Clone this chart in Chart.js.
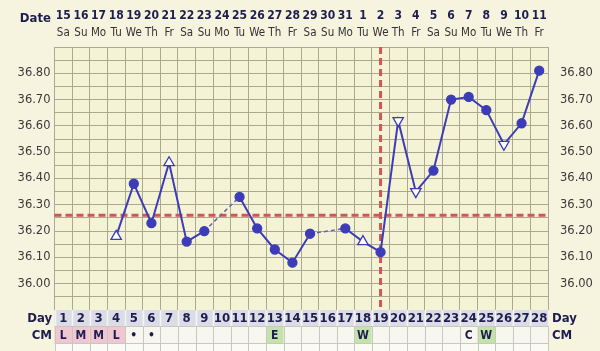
<!DOCTYPE html>
<html>
<head>
<meta charset="utf-8">
<script src="https://cdn.jsdelivr.net/npm/chart.js@4.4.0/dist/chart.umd.min.js"></script>
<style>
  html, body { margin: 0; padding: 0; background: #f6f3df; }
  canvas { display: block; }
</style>
</head>
<body>
<canvas id="bbt" width="600" height="351"></canvas>
<script>
// cycle days and the calendar row above them
const days = [1,2,3,4,5,6,7,8,9,10,11,12,13,14,15,16,17,18,19,20,21,22,23,24,25,26,27,28];
const dates = ['15','16','17','18','19','20','21','22','23','24','25','26','27','28',
               '29','30','31','1','2','3','4','5','6','7','8','9','10','11'];
const weekdays = ['Sa','Su','Mo','Tu','We','Th','Fr','Sa','Su','Mo','Tu','We','Th','Fr',
                  'Sa','Su','Mo','Tu','We','Th','Fr','Sa','Su','Mo','Tu','We','Th','Fr'];

// temperatures, null = not recorded
const temps = [null, null, null, 36.18, 36.38, 36.23, 36.46, 36.16, 36.20, null,
               36.33, 36.21, 36.13, 36.08, 36.19, null, 36.21, 36.16, 36.12, 36.62,
               36.35, 36.43, 36.70, 36.71, 36.66, 36.53, 36.61, 36.81];
// marker kind: c = dot, u = open triangle up, d = open triangle down
const marks = ['c','c','c','u','c','c','u','c','c','c',
               'c','c','c','c','c','c','c','u','c','d',
               'd','c','c','c','c','d','c','c'];

// cervical mucus row
const cm = ['L','M','M','L','•','•','','','','','','','E','','','','','W','','','','','','C','W','','',''];
const cmColor = { L: '#f1c6d3', M: '#f1c6d3', E: '#c3e3aa', W: '#c3e3aa' };

const coverline = 36.26;
const ovulationDay = 19;

const yMin = 35.90, yMax = 36.90;

const BLUE = '#3c3cb8';
const RED = '#cf5656';
const GRID = '#aca991';
const NAVY = '#1d1d4e';
const condensed = "'DejaVu Sans Condensed', 'DejaVu Sans', sans-serif";

// segments touching a missing day are drawn dashed
const gap = (ctx) => ctx.p0.skip || ctx.p1.skip;

const tickLabel = (v) => {
  const c = Math.round(v * 100);
  return (c % 10 === 0 && c >= 3600 && c <= 3680) ? (c / 100).toFixed(2) : '';
};

const chartPlugin = {
  id: 'fertility',
  beforeDraw(chart) {
    const { ctx, chartArea: a } = chart;
    ctx.save();
    ctx.fillStyle = '#f5f3d6';
    ctx.fillRect(a.left, a.top, a.right - a.left, a.bottom - a.top);
    ctx.restore();
  },
  beforeDatasetsDraw(chart) {
    const { ctx, chartArea: a, scales } = chart;
    ctx.save();
    ctx.strokeStyle = RED;
    ctx.lineWidth = 3;
    ctx.setLineDash([7, 4]);
    const cy = scales.y.getPixelForValue(coverline);
    ctx.beginPath();
    ctx.moveTo(a.left, cy);
    ctx.lineTo(a.right, cy);
    ctx.stroke();
    const ox = scales.x.getPixelForValue(ovulationDay - 1);
    ctx.beginPath();
    ctx.moveTo(ox, a.top);
    ctx.lineTo(ox, a.bottom);
    ctx.stroke();
    ctx.restore();
  },
  afterDraw(chart) {
    const { ctx, chartArea: a, scales } = chart;
    const x = scales.x;
    const colW = (a.right - a.left) / days.length;
    ctx.save();
    ctx.textAlign = 'center';
    ctx.textBaseline = 'middle';

    // top: dates and weekdays
    ctx.fillStyle = NAVY;
    ctx.font = 'bold 12px ' + condensed;
    dates.forEach((d, i) => ctx.fillText(d, x.getPixelForValue(i), 16));
    ctx.fillStyle = '#333333';
    ctx.font = '11.5px ' + condensed;
    weekdays.forEach((w, i) => ctx.fillText(w, x.getPixelForValue(i), 33));
    ctx.fillStyle = NAVY;
    ctx.font = 'bold 13px ' + condensed;
    ctx.textAlign = 'right';
    ctx.fillText('Date', 51, 19);

    // bottom: Day row, CM row, next row
    const dayTop = a.bottom, dayH = 16;
    const cmTop = dayTop + dayH, cmH = 17;
    const nextTop = cmTop + cmH;
    days.forEach((d, i) => {
      const cx = x.getPixelForValue(i);
      const l = cx - colW / 2;
      ctx.fillStyle = '#dcdce7';
      ctx.fillRect(l, dayTop, colW, dayH);
      ctx.fillStyle = cmColor[cm[i]] || '#f7f7ef';
      ctx.fillRect(l, cmTop, colW, cmH);
      ctx.fillStyle = '#fbfbf6';
      ctx.fillRect(l, nextTop, colW, 351 - nextTop);
    });
    ctx.strokeStyle = '#f4f4f4';
    ctx.lineWidth = 1.5;
    days.forEach((d, i) => {
      const l = Math.round(x.getPixelForValue(i) - colW / 2) + 0.5;
      ctx.beginPath();
      ctx.moveTo(l, dayTop);
      ctx.lineTo(l, cmTop);
      ctx.stroke();
    });
    ctx.strokeStyle = '#c9c8bb';
    ctx.lineWidth = 1;
    for (let i = 0; i <= days.length; i++) {
      const l = Math.round(a.left + i * colW) + 0.5;
      ctx.beginPath();
      ctx.moveTo(l, cmTop);
      ctx.lineTo(l, 351);
      ctx.stroke();
    }
    [cmTop, nextTop].forEach(yy => {
      ctx.beginPath();
      ctx.moveTo(a.left, yy + 0.5);
      ctx.lineTo(a.right, yy + 0.5);
      ctx.stroke();
    });

    ctx.textAlign = 'center';
    ctx.fillStyle = NAVY;
    ctx.font = 'bold 13px ' + condensed;
    days.forEach((d, i) => ctx.fillText(String(d), x.getPixelForValue(i), dayTop + dayH / 2 + 1));
    ctx.font = 'bold 12px ' + condensed;
    cm.forEach((c, i) => { if (c) ctx.fillText(c, x.getPixelForValue(i), cmTop + cmH / 2 + 1); });

    ctx.font = 'bold 13px ' + condensed;
    ctx.textAlign = 'right';
    ctx.fillText('Day', 52, dayTop + dayH / 2 + 1);
    ctx.fillText('CM', 52, cmTop + cmH / 2 + 1);
    ctx.textAlign = 'left';
    ctx.fillText('Day', 552, dayTop + dayH / 2 + 1);
    ctx.fillText('CM', 552, cmTop + cmH / 2 + 1);
    ctx.restore();
  }
};

const yTicks = {
  stepSize: 0.05,
  autoSkip: false,
  maxTicksLimit: 100,
  callback: tickLabel,
  color: '#3a3a3a',
  font: { family: "'DejaVu Sans', sans-serif", size: 11.5 },
  padding: 4
};

new Chart(document.getElementById('bbt'), {
  type: 'line',
  data: {
    labels: days,
    datasets: [{
      data: temps,
      borderColor: BLUE,
      borderWidth: 2,
      tension: 0,
      spanGaps: true,
      pointStyle: marks.map(m => m === 'c' ? 'circle' : 'triangle'),
      pointRotation: marks.map(m => m === 'd' ? 180 : 0),
      pointRadius: marks.map(m => m === 'c' ? 4.5 : 6),
      pointBackgroundColor: marks.map(m => m === 'c' ? BLUE : '#ffffff'),
      pointBorderColor: BLUE,
      pointBorderWidth: 1.3,
      segment: {
        borderDash: ctx => gap(ctx) ? [4, 3] : undefined,
        borderColor: ctx => gap(ctx) ? '#6464a8' : undefined,
        borderWidth: ctx => gap(ctx) ? 1.5 : undefined
      }
    }]
  },
  options: {
    responsive: false,
    animation: false,
    layout: { padding: { top: 47, bottom: 41 } },
    plugins: { legend: { display: false }, tooltip: { enabled: false } },
    scales: {
      x: {
        type: 'category',
        offset: true,
        grid: { offset: true, color: GRID, drawTicks: false },
        border: { display: false },
        ticks: { display: false },
        afterFit: s => { s.height = 0; }
      },
      y: {
        min: yMin, max: yMax,
        ticks: yTicks,
        grid: { color: GRID, drawTicks: false },
        border: { display: false },
        afterFit: s => { s.width = 54.5; }
      },
      y2: {
        position: 'right',
        min: yMin, max: yMax,
        ticks: yTicks,
        grid: { display: false },
        border: { display: false },
        afterFit: s => { s.width = 52; }
      }
    }
  },
  plugins: [chartPlugin]
});
</script>
</body>
</html>
